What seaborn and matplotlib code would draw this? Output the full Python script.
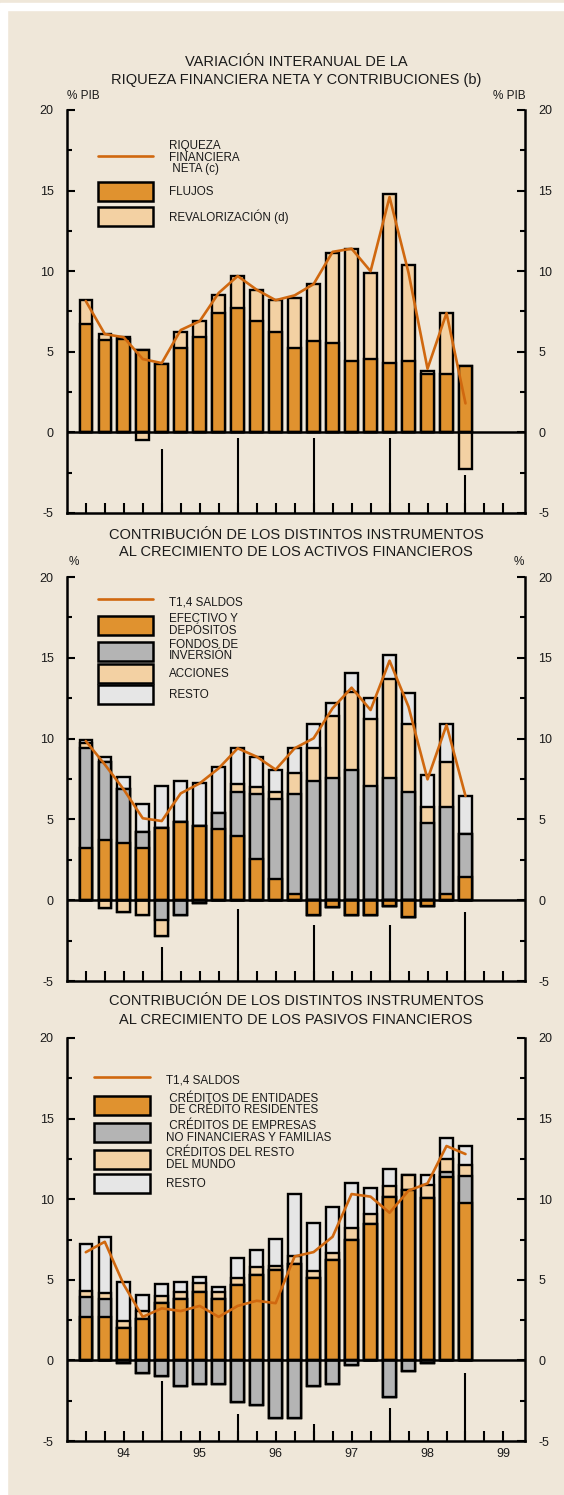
import numpy as np
import pandas as pd
import seaborn as sns
import matplotlib.pyplot as plt
from matplotlib.lines import Line2D
from matplotlib.patches import Patch, Rectangle

# quarterly observations, one bar per quarter
quarters = list(range(21))
year_labels = ["94", "95", "96", "97", "98", "99"]

# panel 1: riqueza financiera neta (% PIB)
riq_flujos = [6.7, 5.75, 5.8, 5.1, 4.26, 5.25, 5.9, 7.4, 7.7, 6.9, 6.25,
              5.25, 5.7, 5.55, 4.45, 4.55, 4.3, 4.45, 3.6, 3.6, 4.1]
riq_reval = [1.5, 0.35, 0.1, -0.5, 0.0, 1.0, 1.0, 1.1, 2.0, 1.95, 1.95,
             3.1, 3.5, 5.55, 6.95, 5.35, 10.5, 5.95, 0.2, 3.8, -2.3]
riq_neta = [8.15, 6.1, 5.9, 4.55, 4.3, 6.35, 6.9, 8.65, 9.7, 8.85, 8.2,
            8.5, 9.2, 11.2, 11.4, 10.0, 14.6, 9.9, 3.95, 7.4, 1.8]

# panel 2: activos financieros (%)
act_efectivo = [3.25, 3.7, 3.55, 3.25, 4.45, 4.86, 4.6, 4.4, 4.0, 2.55, 1.3,
                0.4, -0.9, -0.4, -0.9, -0.9, -0.35, -1.07, -0.35, 0.4, 1.45]
act_fondos = [6.15, 4.87, 3.35, 1.0, -1.23, -0.9, -0.2, 1.0, 2.7, 4.02, 4.96,
              6.15, 7.4, 7.54, 8.06, 7.07, 7.58, 6.71, 4.76, 5.35, 2.65]
act_acciones = [0.3, -0.5, -0.76, -0.9, -0.97, 0.0, 0.0, 0.0, 0.5, 0.45, 0.45,
                1.3, 2.0, 3.86, 4.84, 4.12, 6.09, 4.17, 0.99, 2.82, 0.0]
act_resto = [0.2, 0.3, 0.7, 1.7, 2.64, 2.54, 2.65, 2.85, 2.2, 1.86, 1.35,
             1.55, 1.48, 0.78, 1.14, 1.34, 1.5, 1.96, 2.0, 2.31, 2.35]
act_saldos = [9.85, 8.4, 6.85, 5.07, 4.9, 6.61, 7.23, 8.16, 9.4, 8.88, 8.08,
              9.4, 10.02, 11.88, 13.15, 11.77, 14.82, 11.97, 7.48, 10.84, 6.45]

# panel 3: pasivos financieros (%)
pas_entidades = [2.7, 2.7, 2.0, 2.55, 3.55, 3.8, 4.27, 3.8, 4.65, 5.3, 5.58,
                 6.0, 5.1, 6.2, 7.5, 8.45, 10.15, 10.55, 10.1, 11.4, 9.75]
pas_empresas = [1.25, 1.1, -0.15, -0.8, -0.95, -1.6, -1.46, -1.46, -2.6, -2.77, -3.58,
                -3.58, -1.6, -1.46, -0.3, 0.0, -2.3, -0.63, -0.15, 0.3, 1.7]
pas_mundo = [0.35, 0.4, 0.45, 0.5, 0.42, 0.47, 0.52, 0.47, 0.45, 0.5, 0.25,
             0.47, 0.45, 0.45, 0.7, 0.65, 0.65, 0.95, 0.78, 0.8, 0.67]
pas_resto = [2.92, 3.47, 2.4, 1.0, 0.76, 0.58, 0.41, 0.27, 1.25, 1.05, 1.68,
             3.85, 2.95, 2.88, 2.78, 1.57, 1.05, 0.0, 0.62, 1.28, 1.18]
pas_saldos = [6.71, 7.36, 4.7, 2.7, 3.23, 3.06, 3.38, 2.7, 3.38, 3.7, 3.55,
              6.45, 6.72, 7.67, 10.32, 10.16, 9.16, 10.53, 10.98, 13.3, 12.8]

BG = "#EFE7D9"
ORANGE = "#E0922F"
PEACH = "#F3D1A3"
GRAY = "#B4B4B4"
LIGHT = "#E6E6E6"
LINE = "#D0680F"
TXT = "#1a1a1a"

sns.set_style("ticks")
plt.rcParams["font.family"] = ["Liberation Sans", "DejaVu Sans"]
plt.rcParams["text.color"] = TXT

fig = plt.figure(figsize=(5.64, 14.95), dpi=100, facecolor=BG)
fig.add_artist(Rectangle((0, 1 - 10 / 1495), 1, 7 / 1495, transform=fig.transFigure,
                         color="white", zorder=0))
fig.add_artist(Rectangle((0, 0), 7 / 564, 1 - 10 / 1495, transform=fig.transFigure,
                         color="white", zorder=0))

W, H = 564, 1495
AX_L, AX_R = 66.8, 525.3


def make_ax(top, bottom):
    return fig.add_axes([AX_L / W, (H - bottom) / H, (AX_R - AX_L) / W, (bottom - top) / H])


def draw_panel(ax, parts, colors, line, sep_heights, show_years):
    df = pd.DataFrame(parts, index=quarters)
    pos = df.clip(lower=0).cumsum(axis=1)
    neg = df.clip(upper=0).cumsum(axis=1)
    # stacked look: draw the outer cumulative totals first
    for col, c in reversed(list(zip(df.columns, colors))):
        for cum in (pos, neg):
            sns.barplot(x=quarters, y=cum[col].values, ax=ax, color=c, saturation=1,
                        edgecolor="black", linewidth=1.7, width=0.66, errorbar=None)
    sns.lineplot(x=quarters, y=line, ax=ax, color=LINE, linewidth=1.9, legend=False)
    ax.axhline(0, color="black", lw=1.8)
    ax.vlines([4, 8, 12, 16, 20], -5, sep_heights, color="black", lw=1.5)

    ax.set_facecolor("none")
    ax.set_xlim(-1, 23.15)
    ax.set_ylim(-5, 20)
    ax.set_xlabel("")
    ax.set_ylabel("")
    for s in ("left", "right", "bottom"):
        ax.spines[s].set_linewidth(1.8)
        ax.spines[s].set_color("black")
    ax.spines["top"].set_visible(False)

    ax.set_yticks([-5, 0, 5, 10, 15, 20])
    ax.set_yticklabels(["-5", "0", "5", "10", "15", "20"])
    ax.set_yticks(np.arange(-2.5, 20, 5), minor=True)
    ax.tick_params(axis="y", which="both", direction="in", left=True, right=True,
                   labelleft=True, labelright=True, width=1.5, labelsize=9,
                   labelcolor=TXT, color="black")
    ax.tick_params(axis="y", which="major", length=5.5, pad=9.5)
    ax.tick_params(axis="y", which="minor", length=3.5)

    ax.set_xticks(range(23))
    labels = [""] * 23
    if show_years:
        for k, y in enumerate(year_labels):
            labels[2 + 4 * k] = y
    ax.set_xticklabels(labels)
    ax.tick_params(axis="x", direction="in", length=7, width=1.5, labelsize=9,
                   labelcolor=TXT, pad=5, color="black")


def title(ax, lines, ys):
    for t, y in zip(lines, ys):
        ax.text(0.5, y, t, transform=ax.transAxes, ha="center", va="center", fontsize=10.5)


def legend(ax, handles, labels, anchor, spacing, hlen):
    leg = ax.legend(handles, labels, loc="upper left", bbox_to_anchor=anchor, frameon=False,
                    fontsize=8.4, handlelength=hlen, handleheight=2.15, handletextpad=1.4,
                    labelspacing=spacing, borderpad=0, borderaxespad=0)
    for t in leg.get_texts():
        t.set_linespacing(0.95)
        t.set_color(TXT)


def box(c):
    return Patch(facecolor=c, edgecolor="black", linewidth=1.8)


line_handle = Line2D([], [], color=LINE, lw=1.9)

# panel 1
ax1 = make_ax(110, 513)
draw_panel(ax1, {"flujos": riq_flujos, "reval": riq_reval}, [ORANGE, PEACH], riq_neta,
           [-1.0, -0.35, -0.35, -0.35, -2.65], False)
title(ax1, ["VARIACIÓN INTERANUAL DE LA", "RIQUEZA FINANCIERA NETA Y CONTRIBUCIONES (b)"],
      [1.1199, 1.0744])
ax1.text(0, 1.0347, "% PIB", transform=ax1.transAxes, ha="left", va="center", fontsize=8.5)
ax1.text(1, 1.0347, "% PIB", transform=ax1.transAxes, ha="right", va="center", fontsize=8.5)
legend(ax1, [line_handle, box(ORANGE), box(PEACH)],
       ["RIQUEZA\nFINANCIERA\n NETA (c)", "FLUJOS", "REVALORIZACIÓN (d)"],
       (0.068, 0.925), 0.55, 4.7)

# panel 2
ax2 = make_ax(577, 981)
draw_panel(ax2, {"ef": act_efectivo, "fo": act_fondos, "ac": act_acciones, "re": act_resto},
           [ORANGE, GRAY, PEACH, LIGHT], act_saldos,
           [-2.88, -0.55, -1.55, -1.55, -0.72], False)
title(ax2, ["CONTRIBUCIÓN DE LOS DISTINTOS INSTRUMENTOS",
            "AL CRECIMIENTO DE LOS ACTIVOS FINANCIEROS"], [1.104, 1.063])
ax2.text(0.003, 1.038, "%", transform=ax2.transAxes, ha="left", va="center", fontsize=8.5)
ax2.text(0.997, 1.038, "%", transform=ax2.transAxes, ha="right", va="center", fontsize=8.5)
legend(ax2, [line_handle, box(ORANGE), box(GRAY), box(PEACH), box(LIGHT)],
       ["T1,4 SALDOS", "EFECTIVO Y\nDEPÓSITOS", "FONDOS DE\nINVERSIÓN", "ACCIONES", "RESTO"],
       (0.068, 0.962), 0.15, 4.7)

# panel 3
ax3 = make_ax(1038, 1441)
draw_panel(ax3, {"en": pas_entidades, "em": pas_empresas, "mu": pas_mundo, "re": pas_resto},
           [ORANGE, GRAY, PEACH, LIGHT], pas_saldos,
           [-1.3, -3.3, -3.95, -2.95, -0.8], True)
title(ax3, ["CONTRIBUCIÓN DE LOS DISTINTOS INSTRUMENTOS",
            "AL CRECIMIENTO DE LOS PASIVOS FINANCIEROS"], [1.0926, 1.0447])
legend(ax3, [line_handle, box(ORANGE), box(GRAY), box(PEACH), box(LIGHT)],
       ["T1,4 SALDOS", " CRÉDITOS DE ENTIDADES\n DE CRÉDITO RESIDENTES",
        " CRÉDITOS DE EMPRESAS\nNO FINANCIERAS Y FAMILIAS", "CRÉDITOS DEL RESTO\nDEL MUNDO",
        "RESTO"],
       (0.059, 0.92), 0.3, 4.8)

fig.savefig("out.png", dpi=100, facecolor=fig.get_facecolor())
